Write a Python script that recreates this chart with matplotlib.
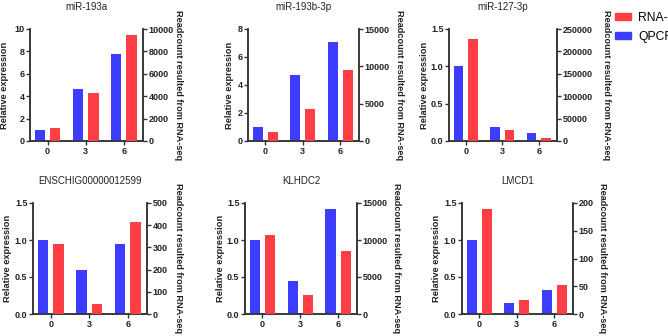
import matplotlib
matplotlib.use("Agg")
import matplotlib.pyplot as plt
from matplotlib.patches import Patch
import numpy as np

plt.rcParams['font.family'] = ['Liberation Sans', 'DejaVu Sans']

categories = ["0", "3", "6"]
titles = ["miR-193a", "miR-193b-3p", "miR-127-3p",
          "ENSCHIG00000012599", "KLHDC2", "LMCD1"]

qpcr_193a = [1.0, 4.6, 7.8]
rnaseq_193a = [1200, 4300, 9500]
qpcr_193b = [1.0, 4.7, 7.1]
rnaseq_193b = [1210, 4350, 9520]
qpcr_127 = [1.0, 0.19, 0.11]
rnaseq_127 = [227500, 24000, 7500]
qpcr_ens = [1.0, 0.6, 0.95]
rnaseq_ens = [314, 47, 413]
qpcr_klhdc2 = [1.0, 0.45, 1.42]
rnaseq_klhdc2 = [10700, 2600, 8470]
qpcr_lmcd1 = [1.0, 0.15, 0.33]
rnaseq_lmcd1 = [190, 26, 52]

left_lims = [(0, 10, [0, 2, 4, 6, 8, 10], None),
             (0, 8, [0, 2, 4, 6, 8], None),
             (0, 1.5, [0.0, 0.5, 1.0, 1.5], "%.1f"),
             (0, 1.5, [0.0, 0.5, 1.0, 1.5], "%.1f"),
             (0, 1.5, [0.0, 0.5, 1.0, 1.5], "%.1f"),
             (0, 1.5, [0.0, 0.5, 1.0, 1.5], "%.1f")]
right_lims = [(10000, [0, 2000, 4000, 6000, 8000, 10000]),
              (15000, [0, 5000, 10000, 15000]),
              (250000, [0, 50000, 100000, 150000, 200000, 250000]),
              (500, [0, 100, 200, 300, 400, 500]),
              (15000, [0, 5000, 10000, 15000]),
              (200, [0, 50, 100, 150, 200])]

qpcr_all = [qpcr_193a, qpcr_193b, qpcr_127, qpcr_ens, qpcr_klhdc2, qpcr_lmcd1]
rna_all = [rnaseq_193a, rnaseq_193b, rnaseq_127, rnaseq_ens, rnaseq_klhdc2, rnaseq_lmcd1]

W, H = 668, 336
# pixel boxes (left, right, top, bottom)
boxes = [(30, 143, 29, 141), (248, 359, 29, 141), (449, 557, 29, 141),
         (33, 147, 203, 314), (245, 357, 203, 314), (462, 573, 203, 314)]
# label centre x positions in pixels (left label, right label)
left_lab_x = [5, 229, 424, 8, 221, 437]
right_lab_x = [179, 399, 606, 178, 396, 602]

BLUE = "#3d3dff"
RED = "#ff3d45"
SPINE = "#333333"
TXT = "#222222"

fig = plt.figure(figsize=(W / 100, H / 100), dpi=100)
x = np.arange(len(categories))
for i in range(6):
    l, r, t, b = boxes[i]
    ax = fig.add_axes([l / W, (H - b) / H, (r - l) / W, (b - t) / H])
    ax2 = ax.twinx()
    ax.bar(x - 0.2, qpcr_all[i], width=0.27, color=BLUE, zorder=3)
    ax2.bar(x + 0.2, rna_all[i], width=0.27, color=RED, zorder=3)
    lo, hi, ticks, fmt = left_lims[i]
    ax.set_ylim(lo, hi)
    ax.set_yticks(ticks)
    if fmt:
        ax.set_yticklabels([fmt % v for v in ticks])
    rmax, rticks = right_lims[i]
    ax2.set_ylim(0, rmax)
    ax2.set_yticks(rticks)
    ax.set_xlim(-0.46, 2.5)
    ax.set_xticks(x)
    ax.set_xticklabels(categories)
    for a in (ax, ax2):
        a.spines['top'].set_visible(False)
        for s in ('left', 'right', 'bottom'):
            a.spines[s].set_color(SPINE)
            a.spines[s].set_linewidth(1.1)
        a.tick_params(axis='both', length=3, width=1, color=SPINE,
                      labelsize=6.5, pad=1)
        for lab in a.get_yticklabels() + a.get_xticklabels():
            lab.set_fontweight('bold')
            lab.set_color(TXT)
    ax.set_ylabel("Relative expression", fontsize=6.7, fontweight='bold',
                  color=TXT)
    ax2.set_ylabel("Readcount resulted from RNA-seq", fontsize=6.6,
                   fontweight='bold', rotation=-90, color=TXT)
    ax.yaxis.set_label_coords((left_lab_x[i] - l) / (r - l), 0.5)
    ax2.yaxis.set_label_coords((right_lab_x[i] - l) / (r - l), 0.5)
    for lbl in (ax.yaxis.label, ax2.yaxis.label):
        lbl.set_va('center')
        lbl.set_ha('center')
    ax.set_title(titles[i], fontsize=7, pad=14, color=TXT)

handles = [Patch(color=RED, label="RNA-seq"), Patch(color=BLUE, label="QPCR")]
fig.legend(handles=handles, loc='upper left', bbox_to_anchor=(610 / W, 1 - 7 / H),
           frameon=False, fontsize=8.7, handlelength=1.3, handleheight=0.55,
           labelspacing=0.6, handletextpad=0.65, borderaxespad=0)

fig.savefig("out.png", dpi=100)
